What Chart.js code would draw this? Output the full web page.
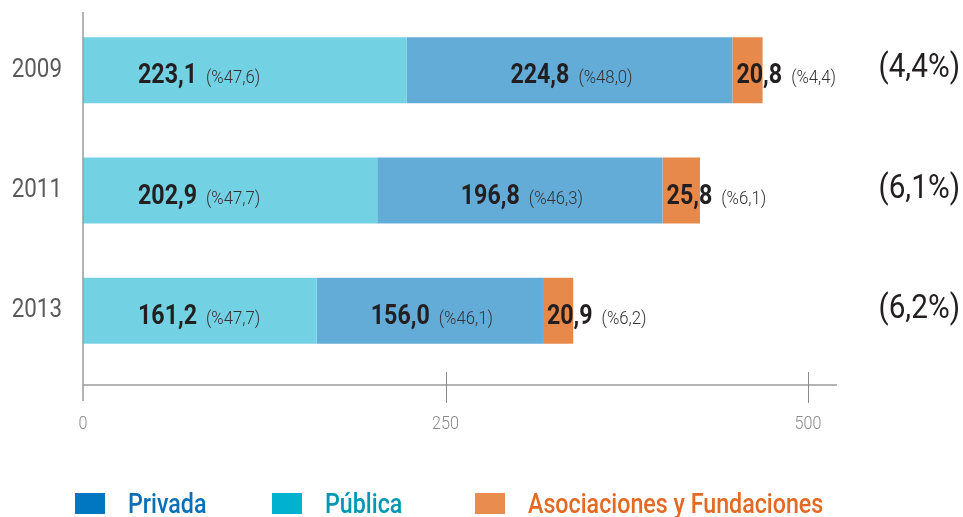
<!DOCTYPE html>
<html><head><meta charset="utf-8">
<script src="https://cdn.jsdelivr.net/npm/chart.js@4"></script>
<style>
html,body{margin:0;padding:0;background:#fff;}
#wrap{position:relative;width:963px;height:517px;overflow:hidden;}
canvas{position:absolute;left:0;top:0;}
.leg{position:absolute;top:489px;height:28px;display:flex;align-items:center;white-space:nowrap;font-family:Roboto,"Liberation Sans",sans-serif;font-size:28px;font-weight:500;}
.leg i{display:inline-block;width:30px;height:21px;margin-right:23px;flex:none;}
.leg span{display:inline-block;transform:scaleX(0.83);transform-origin:0 50%;}
</style></head>
<body><div id="wrap"><canvas id="c" width="963" height="517"></canvas><div id="legend"></div></div>
<script>
const years = ['2009', '2011', '2013'];
const publica = [223.1, 202.9, 161.2];
const privada = [224.8, 196.8, 156.0];
const asociaciones = [20.8, 25.8, 20.9];
const publicaPct = ['(%47,6)', '(%47,7)', '(%47,7)'];
const privadaPct = ['(%48,0)', '(%46,3)', '(%46,1)'];
const asociacionesPct = ['(%4,4)', '(%6,1)', '(%6,2)'];
const shareLabels = ['(4,4%)', '(6,1%)', '(6,2%)'];
const xTicks = [0, 250, 500];
const xMax = 520;
const legendNames = ['Privada', 'Pública', 'Asociaciones y Fundaciones'];

const FONT = 'Roboto,"Liberation Sans",sans-serif';
const fmt = v => v.toFixed(1).replace('.', ',');
const pctLists = [publicaPct, privadaPct, asociacionesPct];

// legend (HTML)
const legendStyle = [
  {box: '#0077C0', text: '#0A6FB7', left: 75},
  {box: '#00B1D0', text: '#0097B2', left: 272},
  {box: '#E88C50', text: '#E26A25', left: 475}
];
const legEl = document.getElementById('legend');
legendNames.forEach((n, i) => {
  const d = document.createElement('div');
  d.className = 'leg';
  d.style.left = legendStyle[i].left + 'px';
  d.style.color = legendStyle[i].text;
  d.innerHTML = '<i style="background:' + legendStyle[i].box + '"></i><span>' + n + '</span>';
  legEl.appendChild(d);
});

function narrowText(ctx, text, x, y, sx) {
  ctx.save();
  ctx.translate(x, y);
  ctx.scale(sx, 1);
  ctx.fillText(text, 0, 0);
  ctx.restore();
}

const axisPlugin = {
  id: 'axisLines',
  afterDatasetsDraw(chart) {
    const ctx = chart.ctx, a = chart.chartArea, xs = chart.scales.x, ys = chart.scales.y;
    const axisY = a.bottom + 14;
    ctx.save();
    ctx.strokeStyle = '#9b9b9b';
    ctx.lineWidth = 1.5;
    ctx.beginPath();
    ctx.moveTo(a.left, 12); ctx.lineTo(a.left, axisY + 16);
    ctx.moveTo(a.left, axisY); ctx.lineTo(xs.getPixelForValue(xMax), axisY);
    ctx.stroke();
    ctx.lineWidth = 1;
    ctx.strokeStyle = '#8a8a8a';
    ctx.beginPath();
    xTicks.forEach(v => {
      if (v === 0) return;
      const px = Math.round(xs.getPixelForValue(v)) + 0.5;
      ctx.moveTo(px, axisY - 13); ctx.lineTo(px, axisY + 18);
    });
    ctx.stroke();
    // x tick labels
    ctx.font = '300 19px ' + FONT;
    ctx.fillStyle = '#8a8a8a';
    ctx.textAlign = 'center';
    ctx.textBaseline = 'middle';
    xs.ticks.forEach(t => {
      narrowText(ctx, String(t.value), xs.getPixelForValue(t.value), axisY + 39, 0.85);
    });
    // y tick labels
    ctx.font = '26px ' + FONT;
    ctx.fillStyle = '#5a5a5a';
    ctx.textAlign = 'right';
    ys.ticks.forEach((t, i) => {
      narrowText(ctx, ys.getLabelForValue(t.value), a.left - 21, ys.getPixelForTick(i), 0.86);
    });
    ctx.restore();
  }
};

const labelPlugin = {
  id: 'barLabels',
  afterDatasetsDraw(chart) {
    const ctx = chart.ctx;
    const S1 = 0.86, S2 = 0.88;
    ctx.save();
    ctx.textBaseline = 'alphabetic';
    ctx.textAlign = 'left';
    chart.data.datasets.forEach((ds, d) => {
      const meta = chart.getDatasetMeta(d);
      meta.data.forEach((el, i) => {
        const val = fmt(ds.data[i]);
        const pct = pctLists[d][i];
        ctx.font = 'bold 27px ' + FONT;
        const w1 = ctx.measureText(val).width * S1;
        ctx.font = '300 19px ' + FONT;
        const w2 = ctx.measureText(pct).width * S2;
        const gap = 9;
        const total = w1 + gap + w2;
        let sx;
        if (d === 0) sx = el.base + 55;
        else if (d === 1) sx = (el.base + el.x) / 2 - total / 2 + 2;
        else sx = el.base + 4;
        const by = el.y + 13;
        ctx.font = 'bold 27px ' + FONT;
        ctx.fillStyle = '#231f20';
        narrowText(ctx, val, sx, by, S1);
        ctx.font = '300 19px ' + FONT;
        ctx.fillStyle = '#333333';
        narrowText(ctx, pct, sx + w1 + gap, by, S2);
      });
    });
    // share labels at right
    const meta0 = chart.getDatasetMeta(0);
    ctx.font = '33px ' + FONT;
    ctx.fillStyle = '#231f20';
    ctx.textAlign = 'right';
    ctx.textBaseline = 'middle';
    meta0.data.forEach((el, i) => {
      narrowText(ctx, shareLabels[i], chart.width - 3, el.y - 1, 0.9);
    });
    ctx.restore();
  }
};

new Chart(document.getElementById('c'), {
  type: 'bar',
  data: {
    labels: years,
    datasets: [
      {label: legendNames[1], data: publica, backgroundColor: '#72D2E3'},
      {label: legendNames[0], data: privada, backgroundColor: '#64ACD8'},
      {label: legendNames[2], data: asociaciones, backgroundColor: '#E6894B'}
    ]
  },
  options: {
    indexAxis: 'y',
    responsive: false,
    animation: false,
    devicePixelRatio: 1,
    layout: {padding: {top: 10, right: 126, left: 0, bottom: 0}},
    datasets: {bar: {categoryPercentage: 1, barPercentage: 0.548, borderWidth: 0}},
    plugins: {legend: {display: false}, tooltip: {enabled: false}},
    scales: {
      x: {
        type: 'linear', stacked: true, min: 0, max: xMax,
        grid: {display: false}, border: {display: false},
        afterBuildTicks: s => { s.ticks = xTicks.map(v => ({value: v})); },
        afterFit: s => { s.height = 146; s.paddingLeft = 0; s.paddingRight = 0; },
        ticks: {display: false}
      },
      y: {
        type: 'category', stacked: true, offset: true,
        grid: {display: false}, border: {display: false},
        afterFit: s => { s.width = 83; s.paddingTop = 0; s.paddingBottom = 0; },
        ticks: {display: false}
      }
    }
  },
  plugins: [axisPlugin, labelPlugin]
});
</script>
</body></html>
